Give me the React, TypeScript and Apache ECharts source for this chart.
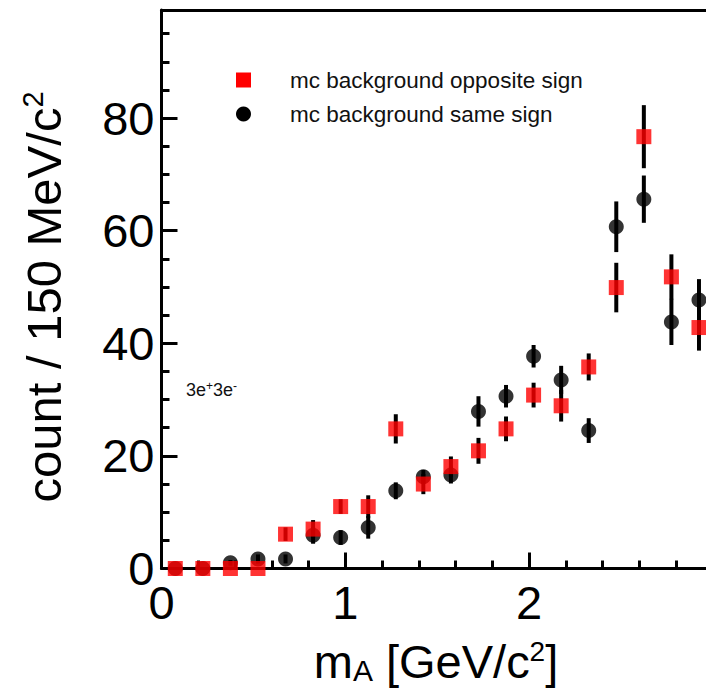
import React, { useEffect, useRef } from "react";
import * as echarts from "echarts";

// bin centres of the invariant-mass histogram (150 MeV/c^2 bins)
const massBins = [
  0.075, 0.225, 0.375, 0.525, 0.675, 0.825, 0.975, 1.125, 1.275, 1.425,
  1.575, 1.725, 1.875, 2.025, 2.175, 2.325, 2.475, 2.625, 2.775, 2.925,
];
// mc background opposite sign (red squares)
const oppositeSign = [
  0, 0, 0, 0, 6.1, 7.0, 11.0, 11.0, 24.8, 15.0,
  18.1, 20.9, 24.8, 30.8, 28.9, 35.8, 49.9, 76.7, 51.8, 42.8,
];
const oppositeErr = [
  0, 0, 0, 0, 1.2, 1.6, 1.3, 2.0, 2.6, 1.8,
  1.8, 2.3, 2.2, 2.2, 2.8, 2.4, 4.4, 5.6, 4.0, 4.1,
];
// mc background same sign (black circles)
const sameSign = [
  0, 0, 1.0, 1.7, 1.7, 5.9, 5.5, 7.3, 13.8, 16.3,
  16.6, 27.9, 30.6, 37.7, 33.5, 24.5, 60.7, 65.6, 43.8, 47.7,
];
const sameErr = [
  0, 0, 0.5, 0.8, 0.8, 1.5, 1.3, 2.0, 1.5, 1.2,
  1.5, 2.7, 2.0, 2.0, 2.5, 2.2, 4.5, 4.2, 4.1, 3.7,
];

const legendLabels = ["mc background opposite sign", "mc background same sign"];

const FONT = "'Liberation Sans', Arial, Helvetica, sans-serif";

const errorBarSeries = (vals: number[], errs: number[], z: number) => ({
  type: "custom",
  silent: true,
  z,
  xAxisIndex: 0,
  yAxisIndex: 0,
  data: massBins.map((x, i) => [x, vals[i], errs[i]]),
  renderItem: (_p: any, api: any) => {
    const x = api.value(0);
    const y = api.value(1);
    const e = api.value(2);
    if (!e) return null;
    const a = api.coord([x, y + e]);
    const b = api.coord([x, y - e]);
    return {
      type: "line",
      shape: { x1: a[0], y1: a[1], x2: b[0], y2: b[1] },
      style: { stroke: "#000", lineWidth: 4 },
    };
  },
});

export default function App() {
  const ref = useRef<HTMLDivElement>(null);
  useEffect(() => {
    const chart = echarts.init(ref.current as HTMLDivElement, null, { renderer: "svg" });
    const axisLine = { show: true, onZero: false, lineStyle: { color: "#000", width: 3 } };
    const tickStyle = { color: "#000", width: 3 };
    const labelStyle = { color: "#000", fontSize: 47, fontFamily: FONT };
    const option: any = {
      animation: false,
      backgroundColor: "#fff",
      grid: {
        left: 161.5,
        top: 10,
        width: 551.25,
        height: 558.5,
        containLabel: false,
        outerBoundsMode: "none",
      },
      xAxis: [
        {
          type: "value",
          position: "bottom",
          min: 0,
          max: 3,
          interval: 1,
          axisLine,
          axisTick: { show: true, inside: true, length: 16, lineStyle: tickStyle },
          minorTick: { show: true, splitNumber: 5, length: 8, lineStyle: tickStyle },
          axisLabel: { ...labelStyle, margin: 10, showMaxLabel: false },
          splitLine: { show: false },
          minorSplitLine: { show: false },
        },
        {
          type: "value",
          position: "top",
          min: 0,
          max: 3,
          axisLine,
          axisTick: { show: false },
          axisLabel: { show: false },
          splitLine: { show: false },
        },
      ],
      yAxis: [
        {
          type: "value",
          position: "left",
          min: 0,
          max: 99.2,
          interval: 20,
          axisLine,
          axisTick: { show: true, inside: true, length: 16, lineStyle: tickStyle },
          axisLabel: { ...labelStyle, margin: 7, showMaxLabel: false },
          splitLine: { show: false },
        },
        {
          type: "value",
          position: "left",
          min: 0,
          max: 99.2,
          interval: 5,
          axisLine: { show: false },
          axisTick: { show: true, inside: true, length: 8, lineStyle: tickStyle },
          axisLabel: { show: false },
          splitLine: { show: false },
        },
      ],
      series: [
        errorBarSeries(sameSign, sameErr, 2),
        {
          type: "scatter",
          name: legendLabels[1],
          z: 3,
          symbol: "circle",
          symbolSize: 15,
          itemStyle: { color: "#000" },
          data: massBins.map((x, i) => [x, sameSign[i]]),
        },
        errorBarSeries(oppositeSign, oppositeErr, 4),
        {
          type: "scatter",
          name: legendLabels[0],
          z: 5,
          symbol: "rect",
          symbolSize: 15,
          itemStyle: { color: "#ff0000" },
          data: massBins.map((x, i) => [x, oppositeSign[i]]),
        },
      ],
      graphic: [
        {
          type: "rect",
          shape: { x: 236, y: 72.5, width: 15, height: 15 },
          style: { fill: "#ff0000" },
        },
        {
          type: "circle",
          shape: { cx: 243.5, cy: 114, r: 7.5 },
          style: { fill: "#000" },
        },
        {
          type: "text",
          x: 290,
          y: 80,
          style: {
            text: legendLabels[0],
            fontSize: 22.5,
            fontFamily: FONT,
            fill: "#111",
            align: "left",
            verticalAlign: "middle",
          },
        },
        {
          type: "text",
          x: 290,
          y: 114,
          style: {
            text: legendLabels[1],
            fontSize: 22.5,
            fontFamily: FONT,
            fill: "#111",
            align: "left",
            verticalAlign: "middle",
          },
        },
        {
          type: "text",
          x: 186,
          y: 390,
          style: {
            text: "{n|3e}{s|+}{n|3e}{s|-}",
            fontFamily: FONT,
            fill: "#111",
            align: "left",
            verticalAlign: "middle",
            rich: {
              n: { fontSize: 18, fontFamily: FONT, fill: "#111", lineHeight: 21 },
              s: { fontSize: 12, fontFamily: FONT, fill: "#111", lineHeight: 13, verticalAlign: "top" },
            },
          },
        },
        {
          type: "text",
          x: 436,
          y: 661,
          style: {
            text: "{m|m}{sub|A}{m| [GeV/c}{sup|2}{m|]}",
            fontFamily: FONT,
            fill: "#000",
            align: "center",
            verticalAlign: "middle",
            rich: {
              m: { fontSize: 47, fontFamily: FONT, fill: "#000", lineHeight: 48 },
              sub: { fontSize: 30, fontFamily: FONT, fill: "#000", lineHeight: 28, verticalAlign: "bottom" },
              sup: { fontSize: 28, fontFamily: FONT, fill: "#000", lineHeight: 28, verticalAlign: "top" },
            },
          },
        },
        {
          type: "text",
          x: 44,
          y: 297,
          rotation: Math.PI / 2,
          style: {
            text: "{m|count / 150 MeV/c}{sup|2}",
            fontFamily: FONT,
            fill: "#000",
            align: "center",
            verticalAlign: "middle",
            rich: {
              m: { fontSize: 49, fontFamily: FONT, fill: "#000", lineHeight: 52 },
              sup: { fontSize: 29, fontFamily: FONT, fill: "#000", lineHeight: 29, verticalAlign: "top" },
            },
          },
        },
      ],
    };
    chart.setOption(option);
    return () => chart.dispose();
  }, []);
  return (
    <div
      ref={ref}
      style={{ position: "absolute", left: 0, top: 0, width: 706, height: 689, background: "#fff" }}
    />
  );
}
